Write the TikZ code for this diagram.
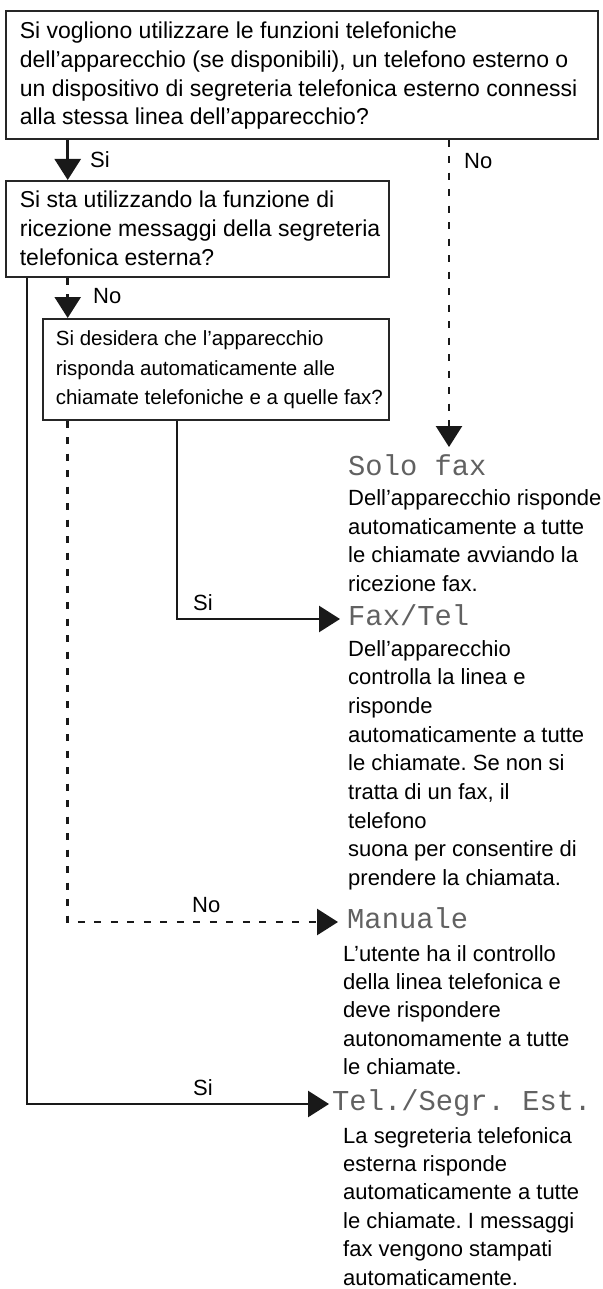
\documentclass[tikz,border=0pt]{standalone}
\usepackage{fontspec}
\setmainfont{Liberation Sans}
\newfontfamily\lcdfamily{Liberation Mono}
\usetikzlibrary{arrows.meta}
\frenchspacing
\newcommand\boxfontA{\fontsize{23pt}{28.7pt}\selectfont}
\newcommand\boxfontC{\fontsize{20.5pt}{29.5pt}\selectfont}
\newcommand\bodyfontA{\fontsize{22pt}{28.7pt}\selectfont}
\newcommand\bodyfontB{\fontsize{22pt}{28.4pt}\selectfont}
\newcommand\lblfont{\fontsize{22pt}{26pt}\selectfont}
\newcommand\lcdtext{\lcdfamily\fontsize{28.8pt}{30pt}\selectfont}
\begin{document}
\begin{tikzpicture}[x=1pt,y=-1pt,
  qbox/.style={draw=black!85, line width=1.7pt, anchor=north west, inner ysep=0pt, align=left},
  body/.style={anchor=base west, inner sep=0pt, font=\bodyfontA},
  lcdlbl/.style={anchor=base west, inner sep=0pt, font=\lcdtext, text=black!62},
  lbl/.style={anchor=base west, inner sep=0pt, font=\lblfont},
  conn/.style={draw=black!90, line width=2.6pt, -{Triangle[width=26pt,length=21pt]}},
  dsh/.style={dash pattern=on 7pt off 9.5pt}
]
\useasboundingbox (0,0) rectangle (602,1289);

% question boxes
\node[qbox, inner xsep=14pt, minimum width=592pt, minimum height=128pt,
      text height=28pt, text depth=100pt, font=\boxfontA] (b1) at (5,10)
  {\parbox[t]{564pt}{\mbox{Si vogliono utilizzare le funzioni telefoniche}\\
   \mbox{dell’apparecchio (se disponibili), un telefono esterno o}\\
   \mbox{un dispositivo di segreteria telefonica esterno connessi}\\
   \mbox{alla stessa linea dell’apparecchio?}}};

\node[qbox, inner xsep=14pt, minimum width=383pt, minimum height=96pt,
      text height=27pt, text depth=69pt, font=\boxfontA] (b2) at (5,180)
  {\parbox[t]{355pt}{\mbox{Si sta utilizzando la funzione di}\\
   \mbox{ricezione messaggi della segreteria}\\
   \mbox{telefonica esterna?}}};

\node[qbox, inner xsep=13pt, minimum width=346pt, minimum height=101pt,
      text height=27pt, text depth=74pt, font=\boxfontC] (b3) at (42,318)
  {\parbox[t]{320pt}{\mbox{Si desidera che l’apparecchio}\\
   \mbox{risponda automaticamente alle}\\
   \mbox{chiamate telefoniche e a quelle fax?}}};

% results
\node[lcdlbl] (solo) at (348,475) {Solo fax};
\node[body] (solob) at (348,505.5)
  {\parbox[t]{254pt}{\mbox{Dell’apparecchio risponde}\\
   \mbox{automaticamente a tutte}\\
   \mbox{le chiamate avviando la}\\
   \mbox{ricezione fax.}}};

\node[lcdlbl] (fax) at (348,625.5) {Fax/Tel};
\node[body] (faxb) at (348,656)
  {\parbox[t]{254pt}{\mbox{Dell’apparecchio}\\
   \mbox{controlla la linea e}\\
   \mbox{risponde}\\
   \mbox{automaticamente a tutte}\\
   \mbox{le chiamate. Se non si}\\
   \mbox{tratta di un fax, il}\\
   \mbox{telefono}\\
   \mbox{suona per consentire di}\\
   \mbox{prendere la chiamata.}}};

\node[lcdlbl] (man) at (347,928) {Manuale};
\node[body, font=\bodyfontB] (manb) at (343,961)
  {\parbox[t]{259pt}{\mbox{L’utente ha il controllo}\\
   \mbox{della linea telefonica e}\\
   \mbox{deve rispondere}\\
   \mbox{autonomamente a tutte}\\
   \mbox{le chiamate.}}};

\node[lcdlbl] (tel) at (332,1110) {Tel./Segr. Est.};
\node[body, font=\bodyfontB] (telb) at (343,1143)
  {\parbox[t]{259pt}{\mbox{La segreteria telefonica}\\
   \mbox{esterna risponde}\\
   \mbox{automaticamente a tutte}\\
   \mbox{le chiamate. I messaggi}\\
   \mbox{fax vengono stampati}\\
   \mbox{automaticamente.}}};

% connector helper coordinates
\coordinate (xA) at (67.7,0);
\coordinate (xL) at (27,0);
\coordinate (xM) at (177,0);
\coordinate (xR) at (449,0);
\coordinate (tipSolo) at (449,447);
\coordinate (tipFax) at (340,619);
\coordinate (tipMan) at (338,922);
\coordinate (tipTel) at (329,1104);

% connectors
\draw[conn] (b1.south -| xA) -- (b2.north -| xA);
\draw[conn, dsh] (b1.south -| xR) -- (tipSolo);
\draw[conn, dsh] (b2.south -| xA) -- (b3.north -| xA);
\draw[conn] (b2.south -| xL) |- (tipTel);
\draw[conn, dsh] (b3.south -| xA) |- (tipMan);
\draw[conn] (b3.south -| xM) |- (tipFax);

% labels
\node[lbl] (lsi1) at (90,168) {Si};
\node[lbl] (lno1) at (464,169) {No};
\node[lbl] (lno2) at (93,303) {No};
\node[lbl] (lsi2) at (193,610) {Si};
\node[lbl] (lno3) at (192,912) {No};
\node[lbl] (lsi3) at (193,1095) {Si};
\end{tikzpicture}
\end{document}
